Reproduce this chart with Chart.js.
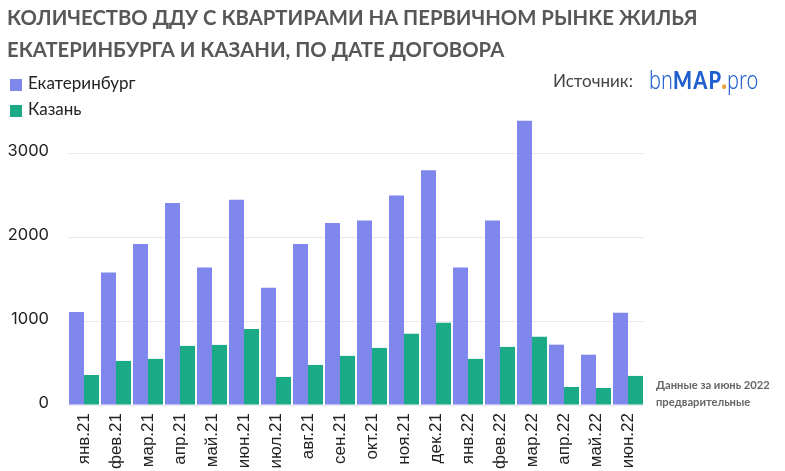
<!DOCTYPE html>
<html>
<head>
<meta charset="utf-8">
<script src="https://cdn.jsdelivr.net/npm/chart.js@4"></script>
<style>
  html, body { margin: 0; padding: 0; background: #fff; }
  #wrap { position: relative; width: 785px; height: 471px; overflow: hidden; font-family: Lato, sans-serif; }
  #chart { position: absolute; left: 0; top: 0; }
  .title { position: absolute; left: 7px; font-size: 21.5px; font-weight: 700; color: #575757; white-space: nowrap; line-height: 26px; transform: scaleX(0.944); transform-origin: left top; }
  .legend-box { position: absolute; left: 10px; width: 12px; height: 12px; }
  .legend-text { position: absolute; left: 28px; font-size: 17px; color: #222; line-height: 22px; }
  .source { position: absolute; left: 553px; top: 70px; font-size: 17px; color: #444; line-height: 22px; }
  .logo { position: absolute; left: 649px; top: 63px; font-size: 25px; color: #1f5fd0; line-height: 32px; white-space: nowrap; font-family: "Noto Sans", sans-serif; font-weight: 300; transform: scaleX(0.8); transform-origin: left top; }
  .logo b { font-weight: 900; font-family: Lato, sans-serif; letter-spacing: 1.5px; }
  .logo i { font-style: normal; font-weight: 900; color: #e9a33a; margin-left: -1px; }
  .note { position: absolute; left: 656px; font-size: 11.2px; font-weight: 700; color: #666; line-height: 16px; white-space: nowrap; }
</style>
</head>
<body>
<div id="wrap">
  <canvas id="chart" width="785" height="471"></canvas>
  <div class="title" style="top:4px">КОЛИЧЕСТВО ДДУ С КВАРТИРАМИ НА ПЕРВИЧНОМ РЫНКЕ ЖИЛЬЯ</div>
  <div class="title" style="top:36px">ЕКАТЕРИНБУРГА И КАЗАНИ, ПО ДАТЕ ДОГОВОРА</div>
  <div class="legend-box" style="top:79px;background:#7f87ec"></div>
  <div class="legend-text" style="top:72px">Екатеринбург</div>
  <div class="legend-box" style="top:105px;background:#1aaa85"></div>
  <div class="legend-text" style="top:98px">Казань</div>
  <div class="source">Источник:</div>
  <div class="logo">bn<b>MAP</b><i>.</i>pro</div>
  <div class="note" style="top:377px">Данные за июнь 2022</div>
  <div class="note" style="top:394px">предварительные</div>
</div>
<script>
const categories = ['янв.21', 'фев.21', 'мар.21', 'апр.21', 'май.21', 'июн.21', 'июл.21', 'авг.21', 'сен.21',
  'окт.21', 'ноя.21', 'дек.21', 'янв.22', 'фев.22', 'мар.22', 'апр.22', 'май.22', 'июн.22'];
const ekaterinburg = [1110, 1580, 1920, 2410, 1640, 2450, 1400, 1920, 2170, 2200, 2500, 2800, 1640, 2200, 3390, 720, 600, 1100];
const kazan = [358, 526, 550, 705, 717, 908, 335, 478, 586, 681, 849, 980, 550, 693, 813, 215, 203, 347];
const yTicks = [0, 1000, 2000, 3000];

const ctx = document.getElementById('chart').getContext('2d');

new Chart(ctx, {
  type: 'bar',
  data: {
    labels: categories,
    datasets: [
      { label: 'Екатеринбург', data: ekaterinburg, backgroundColor: '#7f87ec' },
      { label: 'Казань', data: kazan, backgroundColor: '#1aaa85' }
    ]
  },
  options: {
    responsive: false,
    animation: false,
    devicePixelRatio: 1,
    barPercentage: 1,
    categoryPercentage: 30 / 32,
    layout: { padding: { top: 120, right: 141, left: 0, bottom: 0 } },
    plugins: {
      legend: { display: false },
      tooltip: { enabled: false }
    },
    scales: {
      x: {
        grid: { display: false },
        border: { display: false },
        afterFit: function(axis) { axis.height = 66; },
        ticks: {
          autoSkip: false,
          minRotation: 90,
          maxRotation: 90,
          padding: 0,
          color: '#222',
          font: { family: 'Liberation Sans', size: 17 }
        }
      },
      y: {
        min: 0,
        max: 3400,
        afterBuildTicks: function(axis) { axis.ticks = yTicks.map(v => ({ value: v })); },
        afterFit: function(axis) { axis.width = 68; },
        grid: { color: '#e9e9e9', drawTicks: false },
        border: { display: false },
        ticks: {
          padding: 19,
          labelOffset: -2,
          color: '#222',
          callback: function(value) { return String(value); },
          font: { family: 'Inter', size: 16.5 }
        }
      }
    }
  }
});
</script>
</body>
</html>
